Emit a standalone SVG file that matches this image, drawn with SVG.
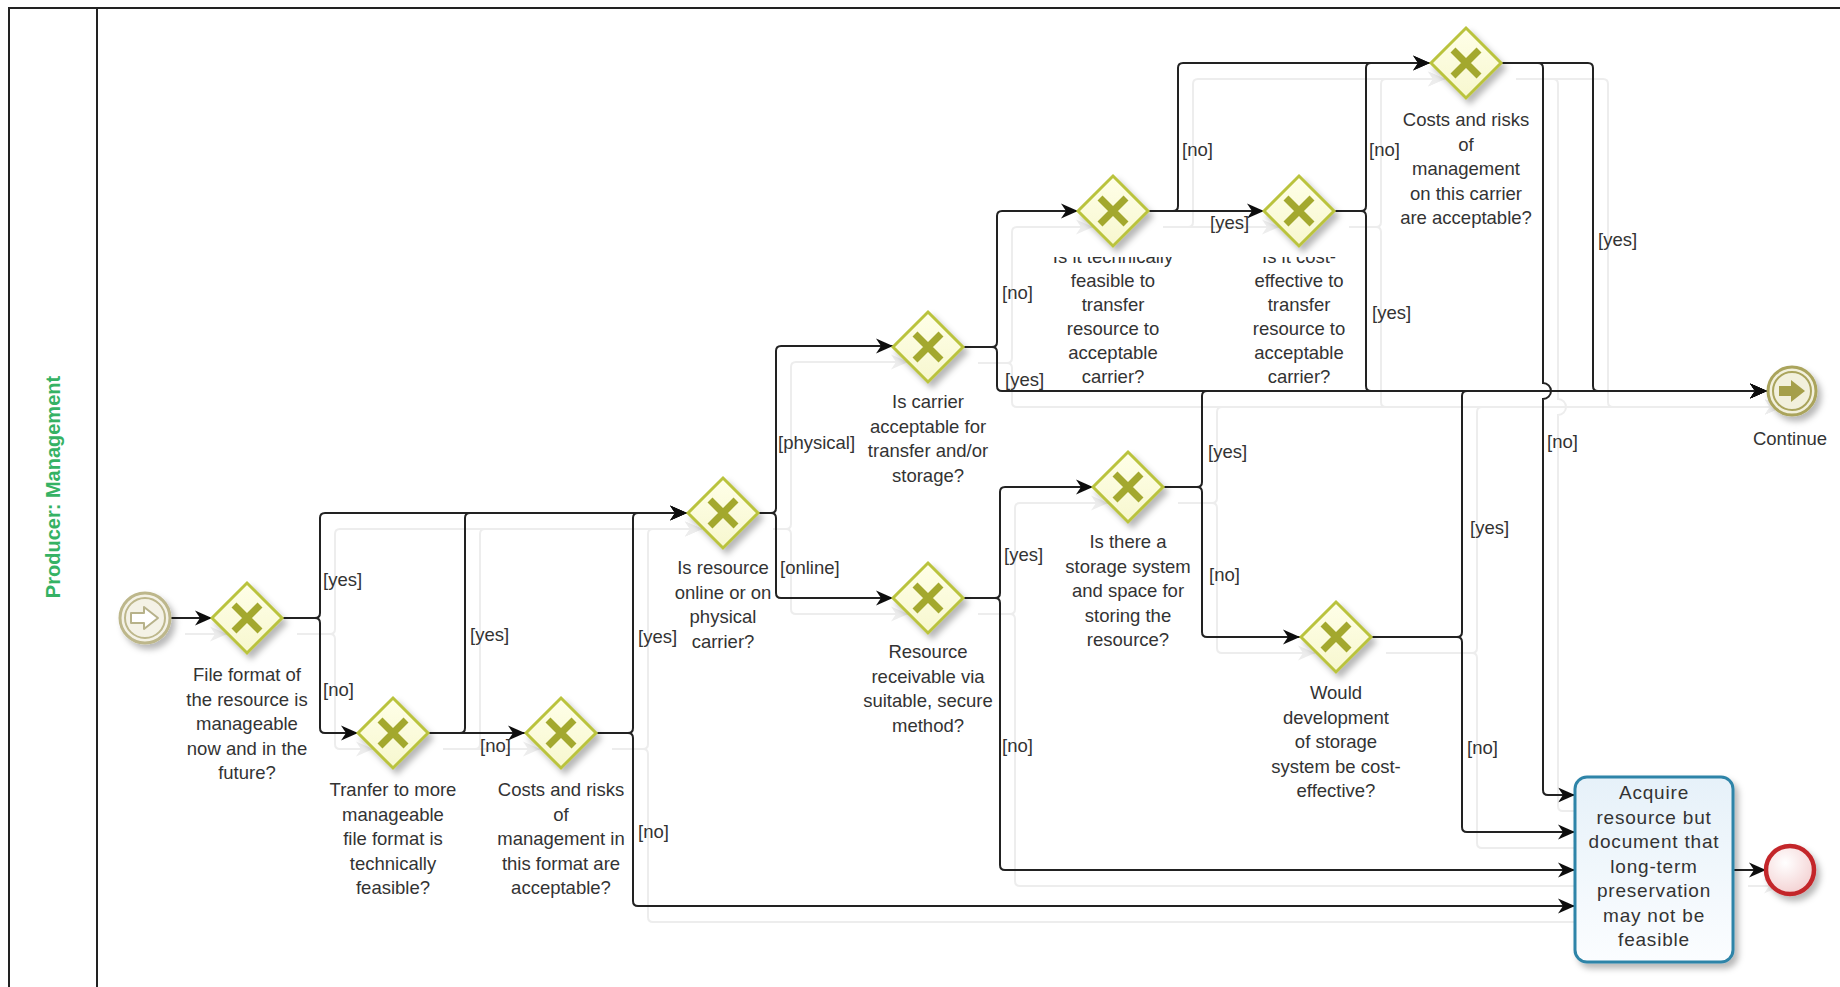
<svg xmlns="http://www.w3.org/2000/svg" width="1840" height="987" viewBox="0 0 1840 987">
  <style>
    .lane { fill: none; stroke: #222; stroke-width: 2; }
    .lane-title { font-family: "Liberation Sans", Arial, sans-serif; font-size: 20px; font-weight: bold; fill: #35b264; }
    .gw-body { fill: url(#gwFill); stroke: #bac33e; stroke-width: 3; stroke-linejoin: miter; }
    .gw-x { stroke: #a3a82f; stroke-width: 7; stroke-linecap: butt; }
    .lbl { font-family: "Liberation Sans", Arial, sans-serif; font-size: 18.5px; fill: #333; text-anchor: middle; }
    .cond { font-family: "Liberation Sans", Arial, sans-serif; font-size: 18.5px; fill: #333; }
    .task-lbl { font-family: "Liberation Sans", Arial, sans-serif; font-size: 19px; letter-spacing: 0.8px; fill: #333; text-anchor: middle; }
    .flow { fill: none; stroke: #222; stroke-width: 2; }
    .arrowed { marker-end: url(#arrow); }
  </style>
  <defs>
    <linearGradient id="gwFill" x1="0" y1="0" x2="0" y2="1">
      <stop offset="0" stop-color="#ffffe8"/>
      <stop offset="1" stop-color="#f7f7cf"/>
    </linearGradient>
    <linearGradient id="taskFill" x1="0" y1="0" x2="0" y2="1">
      <stop offset="0" stop-color="#e6f1f9"/>
      <stop offset="1" stop-color="#fbfdff"/>
    </linearGradient>
    <radialGradient id="endFill" cx="0.4" cy="0.35" r="0.7">
      <stop offset="0" stop-color="#ffffff"/>
      <stop offset="1" stop-color="#f3cfd0"/>
    </radialGradient>
    <filter id="nodeShadow" x="-40%" y="-40%" width="190%" height="190%">
      <feDropShadow dx="4" dy="5" stdDeviation="3" flood-color="#000" flood-opacity="0.28"/>
    </filter>
    <filter id="flowShadow" x="-5%" y="-5%" width="115%" height="115%">
      <feOffset in="SourceAlpha" dx="15" dy="16" result="off"/>
      <feFlood flood-color="#ededed" result="col"/>
      <feComposite in="col" in2="off" operator="in" result="sh"/>
      <feMerge>
        <feMergeNode in="sh"/>
        <feMergeNode in="SourceGraphic"/>
      </feMerge>
    </filter>
    <marker id="arrow" viewBox="-18 -8 18 16" refX="0" refY="0" markerWidth="18" markerHeight="16" markerUnits="userSpaceOnUse" orient="auto">
      <path d="M0,0 L-17,-7.5 L-12,0 L-17,7.5 Z" fill="#111"/>
    </marker>
    <g id="xgate">
      <path class="gw-body" d="M0,-35 L35,0 L0,35 L-35,0 Z"/>
      <path class="gw-x" d="M-13,-13 L13,13 M13,-13 L-13,13"/>
    </g>
    <!-- label area of the carrier gateways starts mid-way through their first line -->
    <clipPath id="clipTop">
      <rect x="-100" y="0" width="200" height="150"/>
    </clipPath>
  </defs>

  <rect width="1840" height="987" fill="#fff"/>

  <!-- pool / lane frame -->
  <g id="lane">
    <path class="lane" d="M9,987 V8 H1840"/>
    <path class="lane" d="M97,8 V987"/>
    <text class="lane-title" transform="translate(60,487) rotate(-90)" text-anchor="middle">Producer: Management</text>
  </g>

  <!-- sequence flows -->
  <g id="connectors" filter="url(#flowShadow)">
    <path class="flow arrowed" d="M170,618 H212"/>
    <path class="flow arrowed" d="M282,618 H315 Q320,618 320,613 V518 Q320,513 325,513 H687"/>
    <path class="flow arrowed" d="M282,618 H315 Q320,618 320,623 V728 Q320,733 325,733 H358"/>
    <path class="flow arrowed" d="M428,733 H460 Q465,733 465,728 V518 Q465,513 470,513 H687"/>
    <path class="flow arrowed" d="M428,733 H525"/>
    <path class="flow arrowed" d="M597,733 H628 Q633,733 633,728 V518 Q633,513 638,513 H687"/>
    <path class="flow arrowed" d="M597,733 H628 Q633,733 633,738 V901 Q633,906 638,906 H1575"/>
    <path class="flow arrowed" d="M758,513 H771 Q776,513 776,508 V351 Q776,346 781,346 H893"/>
    <path class="flow arrowed" d="M758,513 H771 Q776,513 776,518 V593 Q776,598 781,598 H893"/>
    <path class="flow arrowed" d="M963,347 H992 Q997,347 997,342 V216 Q997,211 1002,211 H1078"/>
    <path class="flow arrowed" d="M963,347 H992 Q997,347 997,352 V386 Q997,391 1002,391 H1767"/>
    <path class="flow arrowed" d="M963,598 H995 Q1000,598 1000,593 V492 Q1000,487 1005,487 H1093"/>
    <path class="flow arrowed" d="M963,598 H995 Q1000,598 1000,603 V865 Q1000,870 1005,870 H1575"/>
    <path class="flow arrowed" d="M1148,211 H1173 Q1178,211 1178,206 V68 Q1178,63 1183,63 H1430"/>
    <path class="flow arrowed" d="M1148,211 H1264"/>
    <path class="flow arrowed" d="M1334,211 H1361 Q1366,211 1366,206 V68 Q1366,63 1371,63 H1430"/>
    <path class="flow arrowed" d="M1334,211 H1361 Q1366,211 1366,216 V386 Q1366,391 1371,391 H1767"/>
    <path class="flow arrowed" d="M1501,63 H1538 Q1543,63 1543,68 V383 A8,8 0 0 1 1543,399 V790 Q1543,795 1548,795 H1575"/>
    <path class="flow arrowed" d="M1501,63 H1588 Q1593,63 1593,68 V386 Q1593,391 1598,391 H1767"/>
    <path class="flow arrowed" d="M1163,487 H1197 Q1202,487 1202,482 V396 Q1202,391 1207,391 H1767"/>
    <path class="flow arrowed" d="M1163,487 H1197 Q1202,487 1202,492 V632 Q1202,637 1207,637 H1300"/>
    <path class="flow arrowed" d="M1371,637 H1457 Q1462,637 1462,632 V396 Q1462,391 1467,391 H1767"/>
    <path class="flow arrowed" d="M1371,637 H1457 Q1462,637 1462,642 V827 Q1462,832 1467,832 H1575"/>
    <path class="flow arrowed" d="M1733,870 H1766"/>
  </g>

  <!-- condition labels -->
  <g id="conditions" class="cond">
    <text x="323" y="586">[yes]</text>
    <text x="323" y="696">[no]</text>
    <text x="470" y="641">[yes]</text>
    <text x="480" y="752">[no]</text>
    <text x="638" y="643">[yes]</text>
    <text x="638" y="838">[no]</text>
    <text x="778" y="449">[physical]</text>
    <text x="780" y="574">[online]</text>
    <text x="1002" y="299">[no]</text>
    <text x="1005" y="386">[yes]</text>
    <text x="1004" y="561">[yes]</text>
    <text x="1002" y="752">[no]</text>
    <text x="1182" y="156">[no]</text>
    <text x="1210" y="229">[yes]</text>
    <text x="1369" y="156">[no]</text>
    <text x="1372" y="319">[yes]</text>
    <text x="1547" y="448">[no]</text>
    <text x="1598" y="246">[yes]</text>
    <text x="1208" y="458">[yes]</text>
    <text x="1209" y="581">[no]</text>
    <text x="1470" y="534">[yes]</text>
    <text x="1467" y="754">[no]</text>
  </g>

  <!-- start event -->
  <g id="start">
    <g filter="url(#nodeShadow)">
      <circle cx="145" cy="618" r="25" fill="#f4f2e6" stroke="#bdb78b" stroke-width="3"/>
    </g>
    <circle cx="145" cy="618" r="20" fill="none" stroke="#bdb78b" stroke-width="2"/>
    <path d="M131,613 H144 V607 L158,618 L144,629 V623 H131 Z" fill="#fff" stroke="#b7b28a" stroke-width="2" stroke-linejoin="round"/>
  </g>

  <g id="gw-file-format">
    <use href="#xgate" x="247" y="618" filter="url(#nodeShadow)"/>
    <text class="lbl"><tspan x="247" y="681">File format of</tspan><tspan x="247" dy="24.5">the resource is</tspan><tspan x="247" dy="24.5">manageable</tspan><tspan x="247" dy="24.5">now and in the</tspan><tspan x="247" dy="24.5">future?</tspan></text>
  </g>

  <g id="gw-transfer-format">
    <use href="#xgate" x="393" y="733" filter="url(#nodeShadow)"/>
    <text class="lbl"><tspan x="393" y="796">Tranfer to more</tspan><tspan x="393" dy="24.5">manageable</tspan><tspan x="393" dy="24.5">file format is</tspan><tspan x="393" dy="24.5">technically</tspan><tspan x="393" dy="24.5">feasible?</tspan></text>
  </g>

  <g id="gw-costs-format">
    <use href="#xgate" x="561" y="733" filter="url(#nodeShadow)"/>
    <text class="lbl"><tspan x="561" y="796">Costs and risks</tspan><tspan x="561" dy="24.5">of</tspan><tspan x="561" dy="24.5">management in</tspan><tspan x="561" dy="24.5">this format are</tspan><tspan x="561" dy="24.5">acceptable?</tspan></text>
  </g>

  <g id="gw-online-physical">
    <use href="#xgate" x="723" y="513" filter="url(#nodeShadow)"/>
    <text class="lbl"><tspan x="723" y="574">Is resource</tspan><tspan x="723" dy="24.5">online or on</tspan><tspan x="723" dy="24.5">physical</tspan><tspan x="723" dy="24.5">carrier?</tspan></text>
  </g>

  <g id="gw-carrier">
    <use href="#xgate" x="928" y="347" filter="url(#nodeShadow)"/>
    <text class="lbl"><tspan x="928" y="408">Is carrier</tspan><tspan x="928" dy="24.5">acceptable for</tspan><tspan x="928" dy="24.5">transfer and/or</tspan><tspan x="928" dy="24.5">storage?</tspan></text>
  </g>

  <g id="gw-receivable">
    <use href="#xgate" x="928" y="598" filter="url(#nodeShadow)"/>
    <text class="lbl"><tspan x="928" y="658">Resource</tspan><tspan x="928" dy="24.5">receivable via</tspan><tspan x="928" dy="24.5">suitable, secure</tspan><tspan x="928" dy="24.5">method?</tspan></text>
  </g>

  <g id="gw-tech-feasible">
    <use href="#xgate" x="1113" y="211" filter="url(#nodeShadow)"/>
    <g transform="translate(1113,257)">
      <text class="lbl" clip-path="url(#clipTop)"><tspan x="0" y="6">Is it technically</tspan><tspan x="0" dy="24">feasible to</tspan><tspan x="0" dy="24">transfer</tspan><tspan x="0" dy="24">resource to</tspan><tspan x="0" dy="24">acceptable</tspan><tspan x="0" dy="24">carrier?</tspan></text>
    </g>
  </g>

  <g id="gw-cost-effective">
    <use href="#xgate" x="1299" y="211" filter="url(#nodeShadow)"/>
    <g transform="translate(1299,257)">
      <text class="lbl" clip-path="url(#clipTop)"><tspan x="0" y="6">Is it cost-</tspan><tspan x="0" dy="24">effective to</tspan><tspan x="0" dy="24">transfer</tspan><tspan x="0" dy="24">resource to</tspan><tspan x="0" dy="24">acceptable</tspan><tspan x="0" dy="24">carrier?</tspan></text>
    </g>
  </g>

  <g id="gw-costs-carrier">
    <use href="#xgate" x="1466" y="63" filter="url(#nodeShadow)"/>
    <text class="lbl"><tspan x="1466" y="126">Costs and risks</tspan><tspan x="1466" dy="24.5">of</tspan><tspan x="1466" dy="24.5">management</tspan><tspan x="1466" dy="24.5">on this carrier</tspan><tspan x="1466" dy="24.5">are acceptable?</tspan></text>
  </g>

  <g id="gw-storage">
    <use href="#xgate" x="1128" y="487" filter="url(#nodeShadow)"/>
    <text class="lbl"><tspan x="1128" y="548">Is there a</tspan><tspan x="1128" dy="24.5">storage system</tspan><tspan x="1128" dy="24.5">and space for</tspan><tspan x="1128" dy="24.5">storing the</tspan><tspan x="1128" dy="24.5">resource?</tspan></text>
  </g>

  <g id="gw-development">
    <use href="#xgate" x="1336" y="637" filter="url(#nodeShadow)"/>
    <text class="lbl"><tspan x="1336" y="699">Would</tspan><tspan x="1336" dy="24.5">development</tspan><tspan x="1336" dy="24.5">of storage</tspan><tspan x="1336" dy="24.5">system be cost-</tspan><tspan x="1336" dy="24.5">effective?</tspan></text>
  </g>

  <!-- link throw event -->
  <g id="continue">
    <g filter="url(#nodeShadow)">
      <circle cx="1792" cy="391" r="24" fill="#f2f0dc" stroke="#aaa45c" stroke-width="3"/>
    </g>
    <circle cx="1792" cy="391" r="19" fill="none" stroke="#aaa45c" stroke-width="2"/>
    <path d="M1779,386 H1791 V380 L1805,391 L1791,402 V396 H1779 Z" fill="#a59f4a"/>
    <text class="lbl" x="1790" y="445">Continue</text>
  </g>

  <g id="task-acquire">
    <rect x="1575" y="777" width="158" height="185" rx="12" fill="url(#taskFill)" stroke="#2f84a8" stroke-width="3" filter="url(#nodeShadow)"/>
    <text class="task-lbl"><tspan x="1654" y="799">Acquire</tspan><tspan x="1654" dy="24.5">resource but</tspan><tspan x="1654" dy="24.5">document that</tspan><tspan x="1654" dy="24.5">long-term</tspan><tspan x="1654" dy="24.5">preservation</tspan><tspan x="1654" dy="24.5">may not be</tspan><tspan x="1654" dy="24.5">feasible</tspan></text>
  </g>

  <g id="end">
    <circle cx="1790" cy="870" r="24" fill="url(#endFill)" stroke="#c3272b" stroke-width="4.5" filter="url(#nodeShadow)"/>
  </g>
</svg>
